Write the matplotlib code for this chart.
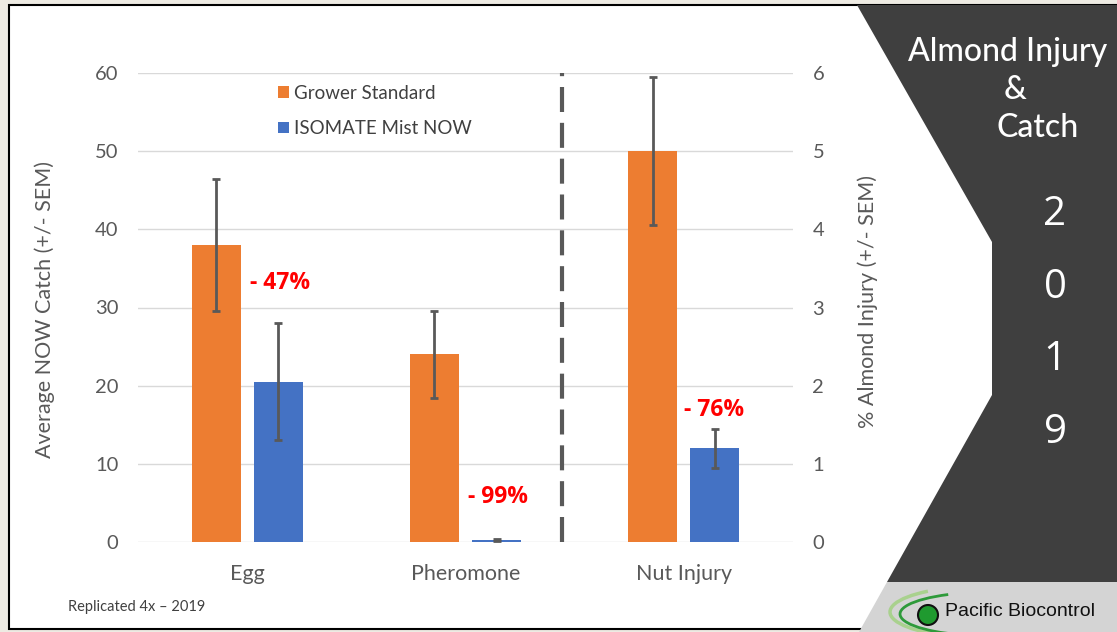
import matplotlib
matplotlib.use("Agg")
import matplotlib.pyplot as plt
from matplotlib.patches import Polygon, Rectangle, Arc, Circle

# data
categories = ["Egg", "Pheromone", "Nut Injury"]
grower = [38.0, 24.0, 5.0]          # Egg, Pheromone = NOW catch; Nut Injury = % injury
grower_err = [8.5, 5.6, 0.95]
isomate = [20.5, 0.25, 1.2]
isomate_err = [7.5, 0.15, 0.25]
reductions = ["- 47%", "- 99%", "- 76%"]
left_ticks = [0, 10, 20, 30, 40, 50, 60]
right_ticks = [0, 1, 2, 3, 4, 5, 6]
year_digits = ["2", "0", "1", "9"]

ORANGE = "#ED7D31"
BLUE = "#4472C4"
GREY = "#595959"
W, H = 1117, 632

plt.rcParams["font.family"] = ["Lato", "DejaVu Sans"]

fig = plt.figure(figsize=(W / 100, H / 100), dpi=100)
fig.patch.set_facecolor("#eeebe3")

# background / decoration axes in pixel coordinates
bg = fig.add_axes([0, 0, 1, 1], zorder=0)
bg.set_xlim(0, W)
bg.set_ylim(H, 0)
bg.axis("off")
bg.add_patch(Rectangle((9, 5), W, 624, facecolor="white", edgecolor="black", lw=1.5))
bg.add_patch(Polygon([(857, 5), (W, 5), (W, 582), (887, 582), (992, 395), (992, 242)],
                     closed=True, facecolor="#3f3f3f", edgecolor="none"))
bg.add_patch(Polygon([(887, 582), (W, 582), (W, H), (859, H)],
                     closed=True, facecolor="#d4d4d4", edgecolor="none"))
bg.add_patch(Arc((985, 612), 190, 52, theta1=95, theta2=200, color="#a9d18e", lw=2.5))
bg.add_patch(Arc((990, 614), 180, 44, theta1=90, theta2=205, color="#2e9a3a", lw=2))
bg.add_patch(Circle((928, 615), 10, facecolor="#1f9a2f", edgecolor="#111111", lw=1.5))
bg.text(945, 612, "Pacific Biocontrol", fontsize=14, color="#111111",
        family=["Liberation Sans", "DejaVu Sans"], va="center", ha="left")

title_kw = dict(fontsize=23, color="white", ha="center", va="center", fontweight="medium")
bg.text(1008, 52, "Almond Injury", **title_kw)
bg.text(1015, 90, "&", **title_kw)
bg.text(1038, 128, "Catch", **title_kw)
for i, d in enumerate(year_digits):
    bg.text(1055, 215 + i * 72.5, d, fontsize=29, color="white", ha="center", va="center",
            family=["Open Sans", "DejaVu Sans"])

bg.text(68, 607, "Replicated 4x \u2013 2019", fontsize=10.5, color="#404040", ha="left", va="center")
bg.text(45, 310, "Average NOW Catch (+/- SEM)", fontsize=15.5, color=GREY, rotation=90,
        ha="center", va="center")
bg.text(868, 302, "% Almond Injury (+/- SEM)", fontsize=15.5, color=GREY, rotation=90,
        ha="center", va="center")

# chart
ax = fig.add_axes([138 / W, 1 - 542 / H, (793 - 138) / W, (542 - 73) / H], zorder=2)
ax.patch.set_alpha(0)
ax2 = ax.twinx()
ax.set_ylim(0, 60)
ax2.set_ylim(0, 6)
ax.set_xlim(-0.5, 2.5)

bw = 0.224
off = 0.142
err_kw = dict(ecolor=GREY, elinewidth=2, capsize=3, capthick=2)
x = [0, 1, 2]

b1 = ax.bar([i - off for i in x[:2]], grower[:2], bw, yerr=grower_err[:2], color=ORANGE,
            error_kw=err_kw, label="Grower Standard", zorder=3)
b2 = ax.bar([i + off for i in x[:2]], isomate[:2], bw, yerr=isomate_err[:2], color=BLUE,
            error_kw=err_kw, label="ISOMATE Mist NOW", zorder=3)
ax2.bar(x[2] - off, grower[2], bw, yerr=grower_err[2], color=ORANGE, error_kw=err_kw, zorder=3)
ax2.bar(x[2] + off, isomate[2], bw, yerr=isomate_err[2], color=BLUE, error_kw=err_kw, zorder=3)

ax.axvline(1.44, color=GREY, lw=3, dashes=(6, 2.6), zorder=4)

for a in (ax, ax2):
    for s in a.spines.values():
        s.set_visible(False)
ax.set_yticks(left_ticks)
ax2.set_yticks(right_ticks)
ax.grid(axis="y", color="#d9d9d9", lw=1, zorder=0)
ax.tick_params(axis="y", length=0, pad=14, labelsize=14.5, labelcolor=GREY)
ax2.tick_params(axis="y", length=0, pad=14, labelsize=14.5, labelcolor=GREY)
ax.set_xticks(x)
ax.set_xticklabels(categories)
ax.tick_params(axis="x", length=0, pad=16, labelsize=15.5, labelcolor=GREY)

# reduction labels (y in left-axis units)
label_pos = [(0.014, 33.1), (1.01, 5.8), (2.0, 16.9)]
for (lx, ly), t in zip(label_pos, reductions):
    ax.text(lx, ly, t, color="#FF0000", fontsize=16.5, fontweight="bold", ha="left", va="center",
            family=["Open Sans", "DejaVu Sans"], zorder=5)

ax.legend(handles=[b1, b2], loc="upper left", bbox_to_anchor=(0.2, 0.995), frameon=False,
          fontsize=13.5, handlelength=0.55, handleheight=0.55, handletextpad=0.3,
          labelspacing=1.0, borderpad=0, labelcolor="#404040")

fig.savefig("out.png", dpi=100)
